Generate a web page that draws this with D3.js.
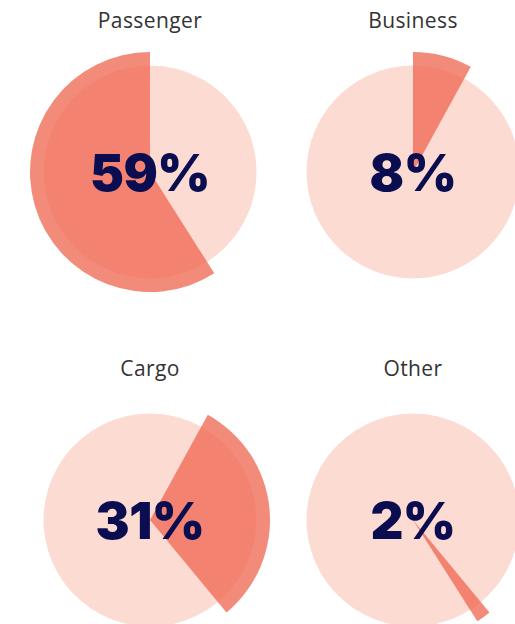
<!DOCTYPE html>
<html>
<head>
<meta charset="utf-8">
<script src="https://cdn.jsdelivr.net/npm/d3@7"></script>
<style>
  html, body { margin: 0; padding: 0; background: #fff; }
  svg { display: block; }
  .title { font-family: "Open Sans", sans-serif; font-size: 21px; letter-spacing: 0.4px; fill: #333; }
  .pct { font-family: Inter, "Lato", sans-serif; font-weight: 900; font-size: 51px; letter-spacing: -0.5px; fill: #0a0e50; }
</style>
</head>
<body>
<script>
// pie order is alphabetical, panels show one highlighted slice each
const categories = ['Business', 'Cargo', 'Other', 'Passenger'];
const shares = [8, 31, 2, 59];
const panelOrder = ['Passenger', 'Business', 'Cargo', 'Other'];

const w = 515;
const h = 624;
const rInner = 106;
const rOuter = 120;

const data = categories.map((c, i) => ({ name: c, value: shares[i] }));

const pie = d3.pie().sort(null).value(d => d.value);
const slices = pie(data);

const col = d3.scalePoint().domain([0, 1]).range([150, 413]);
const row = d3.scalePoint().domain([0, 1]).range([172, 520]);

const baseArc = d3.arc().innerRadius(0).outerRadius(rInner);
const hiArc = d3.arc().innerRadius(0).outerRadius(rOuter);

const svg = d3.select('body')
  .append('svg')
  .attr('width', w)
  .attr('height', h);

const panels = svg.selectAll('g.panel')
  .data(panelOrder)
  .enter()
  .append('g')
  .attr('class', 'panel')
  .attr('transform', (d, i) => `translate(${col(i % 2)}, ${row(Math.floor(i / 2))})`);

// light full circle (all slices, same colour)
panels.selectAll('path.base')
  .data(slices)
  .enter()
  .append('path')
  .attr('class', 'base')
  .attr('d', baseArc)
  .attr('fill', '#fcdcd2')
  .attr('stroke', '#fcdcd2')
  .attr('stroke-width', 1);

// highlighted slice
panels.append('path')
  .attr('d', name => hiArc(slices.find(s => s.data.name === name)))
  .attr('fill', '#f06a55')
  .attr('opacity', 0.78);

panels.append('text')
  .attr('class', 'title')
  .attr('text-anchor', 'middle')
  .attr('y', -144)
  .text(d => d);

panels.append('text')
  .attr('class', 'pct')
  .attr('text-anchor', 'middle')
  .attr('dy', '0.37em')
  .text(name => data.find(d => d.name === name).value + '%');
</script>
</body>
</html>
